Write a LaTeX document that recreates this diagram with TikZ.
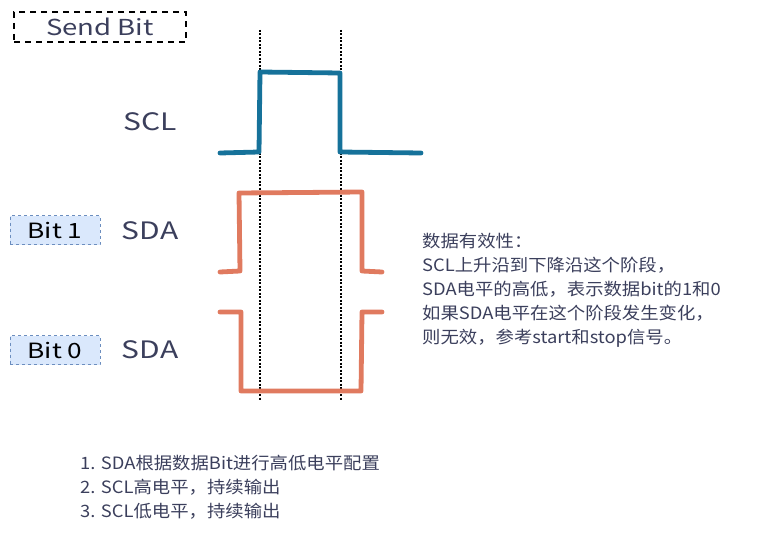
\documentclass[tikz,border=0pt]{standalone}
\usepackage{fontspec}
\setmainfont{Noto Sans CJK SC}
\newfontfamily\wide[FakeStretch=1.25]{Noto Sans CJK SC}
\newfontfamily\paraf[FakeStretch=1.08]{Noto Sans CJK SC}
\definecolor{txt}{HTML}{3B3F5C}
\definecolor{sclc}{HTML}{16729A}
\definecolor{sdac}{HTML}{E07A5F}
\definecolor{bitfill}{HTML}{DAE8FC}
\definecolor{bitdraw}{HTML}{6C8EBF}
\begin{document}
\begin{tikzpicture}[x=1pt,y=-1pt,
  wave/.style={line width=4.8pt,line cap=round,line join=round},
  guide/.style={line width=1.2pt,dash pattern=on 2pt off 1.5pt,black},
  lbl/.style={text=txt,font=\wide\fontsize{24}{24}\selectfont,inner sep=0pt},
  bitbox/.style={draw=bitdraw,dashed,fill=bitfill,line width=0.8pt,minimum width=90pt,minimum height=29pt,inner sep=0pt,font=\wide\fontsize{21}{21}\selectfont,text=black},
  para/.style={text=txt,align=left,inner sep=0pt,anchor=north west,font=\paraf\fontsize{17}{24}\selectfont}]
\useasboundingbox (0,0) rectangle (771,543);
% title box
\node[draw=black,line width=2.8pt,dash pattern=on 6pt off 5pt,minimum width=172pt,minimum height=30pt,inner sep=0pt,text=txt,font=\wide\fontsize{22}{22}\selectfont] (title) at (100,27) {Send Bit};
% guides
\draw[guide] (260,30) -- (260,400);
\draw[guide] (341,30) -- (341,400);
% SCL
\draw[wave,sclc] (220,153) -- (259,152) -- (260,72) -- (340,73) -- (340,152) -- (421,153);
% SDA bit 1
\draw[wave,sdac] (220,272) -- (240,271) -- (239,193) -- (362,192) -- (362,271) -- (382,272);
% SDA bit 0
\draw[wave,sdac] (220,312) -- (241,312) -- (241,391) -- (361,391) -- (362,312) -- (382,312);
% labels
\node[lbl] (scl) at (150,122) {SCL};
\node[lbl] (sda1) at (150,231) {SDA};
\node[lbl] (sda0) at (150,350) {SDA};
\node[bitbox] (bit1) at (55,230) {Bit 1};
\node[bitbox] (bit0) at (55,350) {Bit 0};
% right text
\node[para] (note) at (422,233) {数据有效性：\\SCL上升沿到下降沿这个阶段，\\SDA电平的高低，表示数据bit的1和0\\如果SDA电平在这个阶段发生变化，\\则无效，参考start和stop信号。};
% bottom text
\node[para] (steps) at (80,455) {1. SDA根据数据Bit进行高低电平配置\\2. SCL高电平，持续输出\\3. SCL低电平，持续输出};
\end{tikzpicture}
\end{document}
